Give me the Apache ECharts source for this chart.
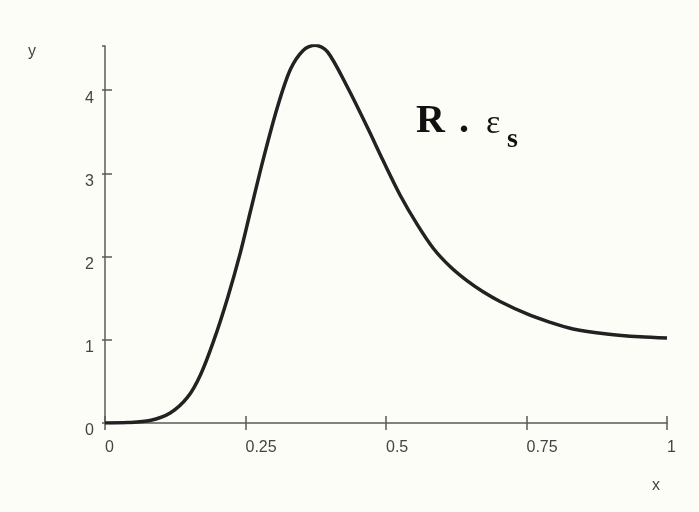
<!DOCTYPE html>
<html>
<head>
<meta charset="utf-8">
<script src="https://cdn.jsdelivr.net/npm/echarts@6/dist/echarts.min.js"></script>
<style>
  html, body { margin: 0; padding: 0; background: #fdfdf8; }
  #main { width: 699px; height: 512px; }
</style>
</head>
<body>
<div id="main"></div>
<script>
// curve
var xs = [0, 0.04, 0.08, 0.116, 0.147, 0.17, 0.193, 0.218, 0.241, 0.259, 0.282, 0.307, 0.33, 0.353, 0.374,
          0.396, 0.431, 0.467, 0.495, 0.525, 0.556, 0.584, 0.614, 0.644, 0.672, 0.703, 0.751, 0.792,
          0.833, 0.893, 0.952, 1];
var ys = [0, 0.005, 0.03, 0.12, 0.31, 0.58, 0.98, 1.5, 2.05, 2.55, 3.18, 3.8, 4.25, 4.48, 4.54,
          4.46, 4.04, 3.55, 3.15, 2.74, 2.38, 2.1, 1.88, 1.71, 1.58, 1.46, 1.31, 1.21,
          1.13, 1.07, 1.035, 1.02];
var xTicks = [0, 0.25, 0.5, 0.75, 1];
var yTicks = [0, 1, 2, 3, 4];

var dom = document.getElementById('main');
var myChart = echarts.init(dom, null, { renderer: 'canvas' });

var axisColor = '#5a5a5a';
var labelStyle = { color: '#444', fontSize: 16, fontFamily: 'Liberation Sans, Arial, sans-serif' };

var data = xs.map(function (x, i) { return [x, ys[i]]; });

var option = {
  backgroundColor: '#fdfdf8',
  animation: false,
  grid: { left: 105, right: 32, top: 46, bottom: 89 },
  xAxis: [
    {
      type: 'value', min: 0, max: 1, interval: 0.25,
      axisLine: { lineStyle: { color: axisColor, width: 1.5 } },
      axisTick: { inside: true, length: 7, lineStyle: { color: axisColor, width: 1.5 } },
      splitLine: { show: false },
      axisLabel: Object.assign({
        margin: 17, align: 'left',
        formatter: function (v) { return xTicks.indexOf(v) >= 0 ? String(v) : ''; }
      }, labelStyle)
    },
    {
      type: 'value', min: 0, max: 1, interval: 0.25, position: 'bottom',
      axisLine: { show: false },
      axisTick: { inside: false, length: 7, lineStyle: { color: axisColor, width: 1.5 } },
      splitLine: { show: false },
      axisLabel: { show: false }
    }
  ],
  yAxis: [
    {
      type: 'value', min: 0, max: 4.53, interval: 1,
      axisLine: { show: true, lineStyle: { color: axisColor, width: 1.5 } },
      axisTick: { show: true, inside: true, length: 7, lineStyle: { color: axisColor, width: 1.5 } },
      splitLine: { show: false },
      axisLabel: Object.assign({
        margin: 11, verticalAlign: 'top', showMaxLabel: false,
        formatter: function (v) { return yTicks.indexOf(v) >= 0 ? String(v) : ''; }
      }, labelStyle)
    },
    {
      type: 'value', min: 0, max: 4.53, interval: 1, position: 'left',
      axisLine: { show: false },
      axisTick: { show: true, inside: false, length: 3, lineStyle: { color: axisColor, width: 1.5 } },
      splitLine: { show: false },
      axisLabel: { show: false }
    }
  ],
  graphic: [
    { type: 'text', left: 28, top: 44, style: { text: 'y', fill: '#444', font: '16px Liberation Sans, Arial, sans-serif' } },
    { type: 'text', left: 652, top: 478, style: { text: 'x', fill: '#444', font: '16px Liberation Sans, Arial, sans-serif' } },
    { type: 'text', left: 416, top: 102, style: { text: 'R', fill: '#111', font: 'bold 40px Liberation Serif, Times New Roman, serif' } },
    { type: 'text', left: 459, top: 102, style: { text: '.', fill: '#111', font: 'bold 40px Liberation Serif, Times New Roman, serif' } },
    { type: 'text', left: 486, top: 107, style: { text: 'ε', fill: '#111', font: '34px Liberation Serif, Times New Roman, serif' } },
    { type: 'text', left: 507, top: 126, style: { text: 's', fill: '#111', font: 'bold 28px Liberation Serif, Times New Roman, serif' } }
  ],
  series: [
    {
      type: 'line',
      data: data,
      smooth: 0.3,
      showSymbol: false,
      lineStyle: { color: '#222', width: 3.5 }
    }
  ]
};

myChart.setOption(option);
window.addEventListener('resize', myChart.resize);
</script>
</body>
</html>
